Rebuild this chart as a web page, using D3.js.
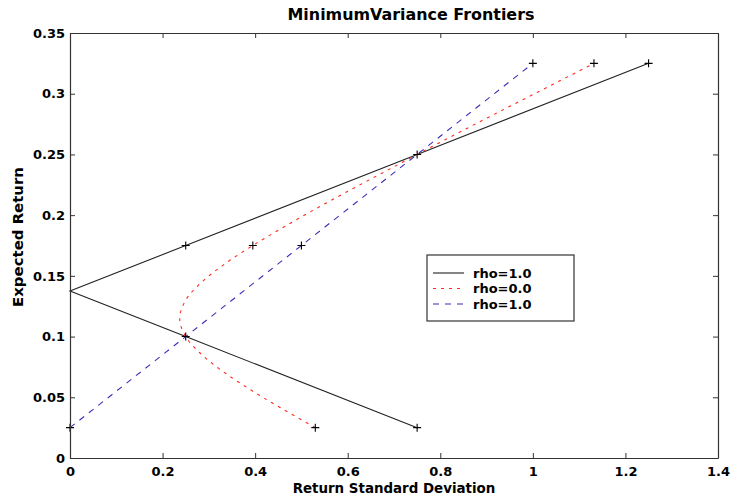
<!DOCTYPE html>
<html>
<head>
<meta charset="utf-8">
<script src="https://cdn.jsdelivr.net/npm/d3@7"></script>
<style>
  body { margin: 0; background: #fff; }
  svg { display: block; }
  text { font-family: "DejaVu Sans", "Liberation Sans", Arial, sans-serif; font-weight: bold; fill: #000; }
</style>
</head>
<body>
<svg id="chart" width="734" height="499"></svg>
<script>
// ---- data ----
const xTicks = [0, 0.2, 0.4, 0.6, 0.8, 1, 1.2, 1.4];
const xTickLabels = ["0", "0.2", "0.4", "0.6", "0.8", "1", "1.2", "1.4"];
const yTicks = [0, 0.05, 0.1, 0.15, 0.2, 0.25, 0.3, 0.35];
const yTickLabels = ["0", "0.05", "0.1", "0.15", "0.2", "0.25", "0.3", "0.35"];

// rho = -1 (solid black): sigma, mu
const blackSigma = [0.75, 0.25, 0.0, 0.25, 0.75, 1.25];
const blackMu    = [0.025, 0.10, 0.1375, 0.175, 0.25, 0.325];

// rho = 0 (red dotted)
const redSigma = [0.530, 0.461, 0.395, 0.335, 0.285, 0.250, 0.237, 0.250, 0.285, 0.335, 0.395,
                  0.461, 0.530, 0.602, 0.676, 0.750, 0.825, 0.901, 0.978, 1.055, 1.132];
const redMu    = [0.025, 0.040, 0.055, 0.070, 0.085, 0.100, 0.115, 0.130, 0.145, 0.160, 0.175,
                  0.190, 0.205, 0.220, 0.235, 0.250, 0.265, 0.280, 0.295, 0.310, 0.325];

// rho = +1 (blue dashed)
const blueSigma = [0.0, 0.25, 0.5, 0.75, 1.0];
const blueMu    = [0.025, 0.10, 0.175, 0.25, 0.325];

// '+' markers
const markerSigma = [0.25, 0.75, 1.25, 0.75, 0.25, 0.53, 0.395, 1.132, 0.0, 0.5, 1.0];
const markerMu    = [0.175, 0.25, 0.325, 0.025, 0.10, 0.025, 0.175, 0.325, 0.025, 0.175, 0.325];

const legendLabels = ["rho=1.0", "rho=0.0", "rho=1.0"];
const titleText = "MinimumVariance Frontiers";
const xLabel = "Return Standard Deviation";
const yLabel = "Expected Return";

// ---- layout ----
const svg = d3.select("#chart");
const L = 70, R = 718, T = 33, B = 458;
const x = d3.scaleLinear().domain([0, 1.4]).range([L, R]);
const y = d3.scaleLinear().domain([0, 0.35]).range([B, T]);

const zip = (a, b) => a.map((v, i) => [v, b[i]]);
const line = d3.line().x(d => x(d[0])).y(d => y(d[1]));

const styles = [
  { color: "#222222", dash: null },
  { color: "#ff2a1a", dash: "3,5" },
  { color: "#3a2fb8", dash: "6,6" }
];

// fit a text element's font size so its width matches a target width
function fit(sel, target, base) {
  sel.style("font-size", base + "px");
  const w = sel.node().getComputedTextLength();
  if (w > 0) sel.style("font-size", (base * target / w).toFixed(2) + "px");
  return sel;
}

// series lines
const g = svg.append("g");
g.append("path").datum(zip(blackSigma, blackMu)).attr("d", line)
  .attr("fill", "none").attr("stroke", styles[0].color).attr("stroke-width", 1.1);
g.append("path").datum(zip(redSigma, redMu)).attr("d", d3.line().curve(d3.curveCatmullRom).x(d => x(d[0])).y(d => y(d[1])))
  .attr("fill", "none").attr("stroke", styles[1].color).attr("stroke-width", 1.1)
  .attr("stroke-dasharray", styles[1].dash);
g.append("path").datum(zip(blueSigma, blueMu)).attr("d", line)
  .attr("fill", "none").attr("stroke", styles[2].color).attr("stroke-width", 1.1)
  .attr("stroke-dasharray", styles[2].dash);

// markers
g.selectAll(".mk").data(zip(markerSigma, markerMu)).enter().append("path")
  .attr("class", "mk")
  .attr("d", d => `M${x(d[0]) - 4},${y(d[1])}H${x(d[0]) + 4}M${x(d[0])},${y(d[1]) - 4}V${y(d[1]) + 4}`)
  .attr("stroke", "#000").attr("stroke-width", 1.1).attr("fill", "none");

// axes box with inward ticks on all sides
const axisColor = "#333";
const tickLen = 5;
const xb = svg.append("g").attr("transform", `translate(0,${B})`)
  .call(d3.axisBottom(x).tickValues(xTicks).tickFormat((d, i) => xTickLabels[i]).tickSizeInner(-tickLen).tickSizeOuter(0).tickPadding(9));
const yl = svg.append("g").attr("transform", `translate(${L},0)`)
  .call(d3.axisLeft(y).tickValues(yTicks).tickFormat((d, i) => yTickLabels[i]).tickSizeInner(-tickLen).tickSizeOuter(0).tickPadding(5));
const xt = svg.append("g").attr("transform", `translate(0,${T})`)
  .call(d3.axisTop(x).tickValues(xTicks).tickFormat("").tickSizeInner(-tickLen).tickSizeOuter(0));
const yr = svg.append("g").attr("transform", `translate(${R},0)`)
  .call(d3.axisRight(y).tickValues(yTicks).tickFormat("").tickSizeInner(-tickLen).tickSizeOuter(0));
[xb, yl, xt, yr].forEach(a => {
  a.selectAll("path.domain").attr("stroke", axisColor).attr("stroke-width", 1.2);
  a.selectAll("line").attr("stroke", axisColor);
  a.selectAll("text").style("font-size", "13px").style("font-weight", "bold")
    .style("font-family", "'DejaVu Sans', 'Liberation Sans', Arial, sans-serif").attr("fill", "#000");
});
xb.selectAll("text").attr("dy", "0.71em");

// title and labels
const tt = svg.append("text").attr("x", 411).attr("y", 20).attr("text-anchor", "middle").text(titleText);
fit(tt, 247, 14);
const xl = svg.append("text").attr("x", 394).attr("y", 493).attr("text-anchor", "middle").text(xLabel);
fit(xl, 203, 13);
const ylab = svg.append("text").attr("transform", `translate(23,237) rotate(-90)`).attr("text-anchor", "middle").text(yLabel);
fit(ylab, 140, 13);

// legend
const lg = svg.append("g");
lg.append("rect").attr("x", 427).attr("y", 255).attr("width", 147).attr("height", 66)
  .attr("fill", "#fff").attr("stroke", "#333").attr("stroke-width", 1.2);
legendLabels.forEach((lab, i) => {
  const yy = 273 + i * 15.5;
  lg.append("line").attr("x1", 433).attr("x2", 464).attr("y1", yy).attr("y2", yy)
    .attr("stroke", styles[i].color).attr("stroke-width", 1.1)
    .attr("stroke-dasharray", styles[i].dash);
  lg.append("text").attr("x", 473).attr("y", yy).attr("dy", "0.35em")
    .style("font-size", "13px").text(lab);
});
</script>
</body>
</html>
